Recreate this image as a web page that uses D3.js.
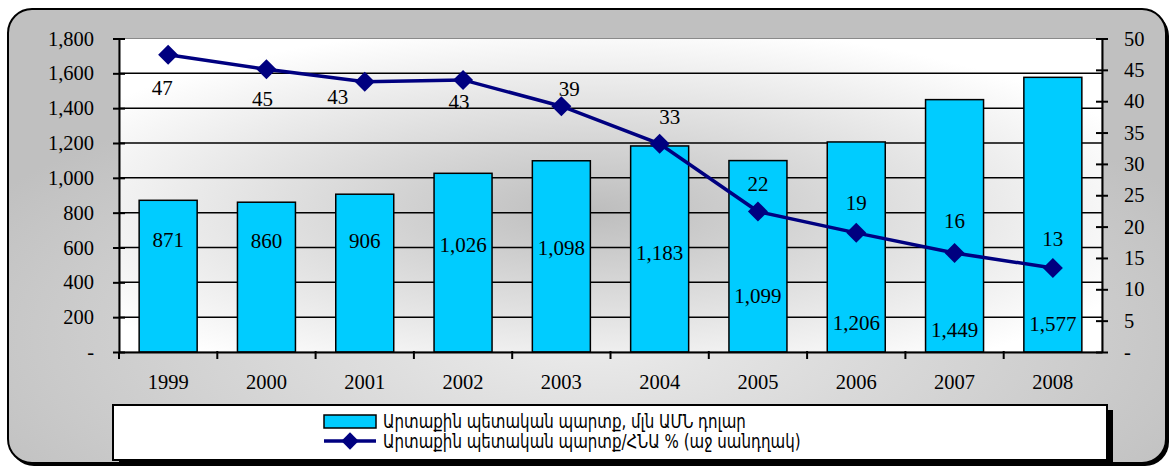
<!DOCTYPE html>
<html>
<head>
<meta charset="utf-8">
<script src="https://cdn.jsdelivr.net/npm/d3@7"></script>
<style>
  html, body { margin: 0; padding: 0; background: #ffffff; }
  svg { display: block; }
</style>
</head>
<body>
<svg id="chart" width="1173" height="469"></svg>
<script>
// ---- data ----
const years = ["1999", "2000", "2001", "2002", "2003", "2004", "2005", "2006", "2007", "2008"];
const debtUSD = [871, 860, 906, 1026, 1098, 1183, 1099, 1206, 1449, 1577];
const debtGDP = [47.4, 45.1, 43.1, 43.4, 39.2, 33.2, 22.4, 19.0, 15.8, 13.4];
const leftTicks = [0, 200, 400, 600, 800, 1000, 1200, 1400, 1600, 1800];
const rightTicks = [0, 5, 10, 15, 20, 25, 30, 35, 40, 45, 50];
const legendLabels = [
  "Արտաքին պետական պարտք, մլն ԱՄՆ դոլար",
  "Արտաքին պետական պարտք/ՀՆԱ % (աջ սանդղակ)"
];

// ---- layout (label nudges below bar top / around point, px) ----
const barLabelNudge = [39, 38, 46, 71, 87, 107, 135, 181, 230, 246];
const lineLabelNudge = [[-6, 33], [-4, 29], [-27, 15], [-4, 22], [8, -18], [10, -27], [0, -28], [0, -30], [0, -32], [0, -29]];

const svg = d3.select("#chart");
const defs = svg.append("defs");

const outerGrad = defs.append("radialGradient").attr("id", "outerGrad")
  .attr("cx", "0.5").attr("cy", "0.72").attr("r", "0.6");
outerGrad.append("stop").attr("offset", "0").attr("stop-color", "#ececec");
outerGrad.append("stop").attr("offset", "1").attr("stop-color", "#c0c0c0");

const plotGrad = defs.append("radialGradient").attr("id", "plotGrad")
  .attr("cx", "0.48").attr("cy", "0.55").attr("r", "0.6");
plotGrad.append("stop").attr("offset", "0").attr("stop-color", "#bdbdbd");
plotGrad.append("stop").attr("offset", "1").attr("stop-color", "#ffffff");

// outer frame
svg.append("rect").attr("x", 10).attr("y", 12).attr("width", 1159).attr("height", 454)
  .attr("rx", 24).attr("fill", "#000");
svg.append("rect").attr("x", 8).attr("y", 9).attr("width", 1158).attr("height", 454)
  .attr("rx", 24).attr("fill", "url(#outerGrad)").attr("stroke", "#000").attr("stroke-width", 2);

const plot = { left: 119, right: 1102, top: 38.5, bottom: 352 };

const x = d3.scaleBand().domain(years).range([plot.left, plot.right])
  .paddingInner(0.41).paddingOuter(0.205);
const yL = d3.scaleLinear().domain([0, 1800]).range([plot.bottom, plot.top]);
const yR = d3.scaleLinear().domain([0, 50]).range([plot.bottom, plot.top]);

// plot background
svg.append("rect").attr("x", plot.left).attr("y", plot.top)
  .attr("width", plot.right - plot.left).attr("height", plot.bottom - plot.top)
  .attr("fill", "url(#plotGrad)").attr("stroke", "#8a8a8a").attr("stroke-width", 1);

// gridlines
svg.append("g").selectAll("line").data(leftTicks.filter(d => d > 0 && d < 1800)).join("line")
  .attr("x1", plot.left).attr("x2", plot.right)
  .attr("y1", d => yL(d)).attr("y2", d => yL(d))
  .attr("stroke", "#000").attr("stroke-width", 1.5);

const fmt = d => d === 0 ? "-" : d3.format(",")(d);
const numFont = "'Liberation Serif', 'Times New Roman', serif";

// left axis
const gL = svg.append("g").attr("transform", `translate(${plot.left},0)`)
  .call(d3.axisLeft(yL).tickValues(leftTicks).tickFormat(fmt).tickSizeInner(6).tickSizeOuter(0).tickPadding(19));
gL.select(".domain").attr("stroke", "#000").attr("stroke-width", 2);
gL.selectAll(".tick line").attr("stroke", "#000").attr("stroke-width", 2).attr("x1", 6).attr("x2", -6);
gL.selectAll(".tick text").attr("font-family", numFont).attr("font-size", 20.5).attr("fill", "#000");

// right axis
const gR = svg.append("g").attr("transform", `translate(${plot.right},0)`)
  .call(d3.axisRight(yR).tickValues(rightTicks).tickFormat(fmt).tickSizeInner(6).tickSizeOuter(0).tickPadding(16));
gR.select(".domain").attr("stroke", "#000").attr("stroke-width", 2);
gR.selectAll(".tick line").attr("stroke", "#000").attr("stroke-width", 2).attr("x1", -6).attr("x2", 6);
gR.selectAll(".tick text").attr("font-family", numFont).attr("font-size", 20.5).attr("fill", "#000");

// bars
svg.append("g").selectAll("rect").data(debtUSD).join("rect")
  .attr("x", (d, i) => x(years[i])).attr("width", x.bandwidth())
  .attr("y", d => yL(d)).attr("height", d => yL(0) - yL(d))
  .attr("fill", "#00ccff").attr("stroke", "#000").attr("stroke-width", 1.5);

// x axis
const gX = svg.append("g").attr("transform", `translate(0,${plot.bottom})`)
  .call(d3.axisBottom(x).tickSize(0).tickPadding(22));
gX.select(".domain").attr("stroke", "#000").attr("stroke-width", 2);
gX.selectAll(".tick text").attr("font-family", numFont).attr("font-size", 20.5).attr("fill", "#000");
// category separator ticks
svg.append("g").selectAll("line").data(years.slice(0, -1)).join("line")
  .attr("x1", d => x(d) + x.bandwidth() + x.step() * 0.205)
  .attr("x2", d => x(d) + x.bandwidth() + x.step() * 0.205)
  .attr("y1", plot.bottom - 1).attr("y2", plot.bottom + 7)
  .attr("stroke", "#000").attr("stroke-width", 2);
svg.append("line").attr("x1", plot.left).attr("x2", plot.left)
  .attr("y1", plot.bottom).attr("y2", plot.bottom + 7).attr("stroke", "#000").attr("stroke-width", 2);

// bar labels
svg.append("g").selectAll("text").data(debtUSD).join("text")
  .attr("x", (d, i) => x(years[i]) + x.bandwidth() / 2)
  .attr("y", (d, i) => yL(d) + barLabelNudge[i])
  .attr("dy", "0.35em")
  .attr("text-anchor", "middle").attr("font-family", numFont).attr("font-size", 21).attr("fill", "#000")
  .text(d => d3.format(",")(d));

// line
const cx = i => x(years[i]) + x.bandwidth() / 2;
svg.append("path").datum(debtGDP)
  .attr("d", d3.line().x((d, i) => cx(i)).y(d => yR(d)))
  .attr("fill", "none").attr("stroke", "#000080").attr("stroke-width", 3.5);
svg.append("g").selectAll("path").data(debtGDP).join("path")
  .attr("transform", (d, i) => `translate(${cx(i)},${yR(d)}) rotate(45)`)
  .attr("d", d3.symbol().type(d3.symbolSquare).size(200))
  .attr("fill", "#000080");

// line labels
svg.append("g").selectAll("text").data(debtGDP).join("text")
  .attr("x", (d, i) => cx(i) + lineLabelNudge[i][0])
  .attr("y", (d, i) => yR(d) + lineLabelNudge[i][1])
  .attr("dy", "0.35em")
  .attr("text-anchor", "middle").attr("font-family", numFont).attr("font-size", 21).attr("fill", "#000")
  .text(d => Math.round(d));

// legend
const lg = { x: 113, y: 405, w: 994, h: 55 };
svg.append("rect").attr("x", lg.x + 6).attr("y", lg.y + 5).attr("width", lg.w).attr("height", lg.h).attr("fill", "#000");
svg.append("rect").attr("x", lg.x).attr("y", lg.y).attr("width", lg.w).attr("height", lg.h)
  .attr("fill", "#fff").attr("stroke", "#000").attr("stroke-width", 2);
svg.append("rect").attr("x", 324).attr("y", 415).attr("width", 52).attr("height", 13)
  .attr("fill", "#00ccff").attr("stroke", "#000").attr("stroke-width", 1.5);
svg.append("line").attr("x1", 324).attr("x2", 376).attr("y1", 441).attr("y2", 441)
  .attr("stroke", "#000080").attr("stroke-width", 3.5);
svg.append("path").attr("transform", "translate(350,441) rotate(45)")
  .attr("d", d3.symbol().type(d3.symbolSquare).size(150)).attr("fill", "#000080");
const legFont = "'DejaVu Sans Condensed', 'DejaVu Sans', sans-serif";
svg.append("g").attr("transform", "translate(383,0) scale(0.88,1)")
  .selectAll("text").data(legendLabels).join("text")
  .attr("x", 0).attr("y", (d, i) => 421 + i * 20).attr("dy", "0.35em")
  .attr("font-family", legFont).attr("font-size", 19).attr("fill", "#000")
  .text(d => d);
</script>
</body>
</html>
